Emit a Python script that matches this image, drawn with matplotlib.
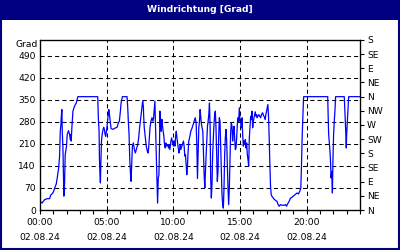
import matplotlib
matplotlib.use("Agg")
import matplotlib.pyplot as plt
from matplotlib.patches import Rectangle
from matplotlib.ticker import MultipleLocator, FixedLocator

title = "Windrichtung [Grad]"
unit_label = "Grad"

# time in hours since 02.08.24 00:00, wind direction in degrees
hours = [
    0.00, 0.15, 0.35, 0.55, 0.72, 0.80, 0.90, 1.00, 1.10, 1.22, 1.30, 1.40, 1.47, 1.52, 1.57, 1.59,
    1.64, 1.67, 1.72, 1.79, 1.84, 1.89, 1.99, 2.04, 2.14, 2.22, 2.27, 2.32, 2.34, 2.39, 2.47, 2.59,
    2.72, 2.84, 4.33, 4.38, 4.43, 4.46, 4.48, 4.53, 4.56, 4.61, 4.66, 4.73, 4.78, 4.83, 4.88, 4.93,
    4.98, 5.03, 5.08, 5.16, 5.21, 5.28, 5.33, 5.46, 5.58, 5.78, 5.88, 5.95, 6.03, 6.08, 6.18, 6.53,
    6.58, 6.63, 6.68, 6.73, 6.78, 6.83, 6.88, 6.93, 7.00, 7.08, 7.15, 7.22, 7.33, 7.40, 7.47, 7.57,
    7.65, 7.70, 7.75, 7.77, 7.82, 7.90, 7.97, 8.05, 8.10, 8.15, 8.20, 8.25, 8.32, 8.40, 8.47, 8.52,
    8.57, 8.62, 8.64, 8.69, 8.74, 8.82, 8.87, 8.92, 8.97, 8.99, 9.04, 9.09, 9.14, 9.19, 9.24, 9.29,
    9.34, 9.39, 9.44, 9.49, 9.57, 9.64, 9.69, 9.74, 9.82, 9.87, 9.92, 9.97, 10.02, 10.07, 10.12, 10.17,
    10.22, 10.27, 10.32, 10.37, 10.42, 10.47, 10.52, 10.56, 10.64, 10.71, 10.76, 10.81, 10.86, 10.91, 10.96, 11.01,
    11.06, 11.11, 11.16, 11.24, 11.31, 11.41, 11.49, 11.56, 11.64, 11.71, 11.76, 11.81, 11.86, 11.91, 11.96, 12.01,
    12.06, 12.11, 12.16, 12.21, 12.26, 12.31, 12.36, 12.41, 12.46, 12.51, 12.56, 12.61, 12.66, 12.71, 12.76, 12.80,
    12.85, 12.90, 12.95, 13.00, 13.05, 13.10, 13.15, 13.20, 13.25, 13.30, 13.35, 13.40, 13.45, 13.50, 13.55, 13.60,
    13.65, 13.70, 13.75, 13.80, 13.85, 13.90, 13.95, 14.00, 14.05, 14.10, 14.15, 14.20, 14.25, 14.30, 14.35, 14.40,
    14.45, 14.50, 14.55, 14.60, 14.65, 14.70, 14.75, 14.80, 14.85, 14.90, 14.95, 15.00, 15.05, 15.10, 15.15, 15.20,
    15.25, 15.30, 15.35, 15.40, 15.45, 15.50, 15.55, 15.60, 15.65, 15.70, 15.75, 15.80, 15.85, 15.90, 15.95, 16.00,
    16.05, 16.09, 16.14, 16.19, 16.24, 16.29, 16.34, 16.42, 16.49, 16.54, 16.62, 16.69, 16.74, 16.79, 16.84, 16.89,
    16.94, 16.99, 17.04, 17.09, 17.14, 17.19, 17.24, 17.29, 17.34, 17.39, 17.49, 17.59, 17.69, 17.79, 17.86, 17.94,
    18.04, 18.16, 18.29, 18.41, 18.49, 18.54, 18.61, 18.69, 18.79, 18.89, 18.99, 19.09, 19.19, 19.28, 19.38, 19.48,
    19.56, 19.61, 19.66, 19.71, 19.76, 19.78, 21.58, 21.60, 21.65, 21.73, 21.78, 21.83, 21.88, 21.93, 21.98, 22.02,
    22.07, 22.12, 22.17, 22.82, 22.85, 22.90, 22.95, 22.97, 23.00, 23.05, 23.10, 23.15, 23.97,
]
direction = [
    28, 22, 33, 36, 36, 47, 51, 57, 70, 83, 104, 134, 171, 250, 272, 293,
    319, 250, 197, 44, 81, 176, 203, 240, 252, 240, 224, 240, 219, 261, 314, 330,
    340, 360, 360, 288, 250, 160, 134, 86, 144, 219, 240, 256, 263, 256, 240, 234,
    250, 266, 288, 319, 303, 277, 259, 256, 259, 263, 277, 282, 314, 340, 360, 360,
    325, 277, 240, 165, 118, 91, 144, 203, 213, 192, 181, 192, 208, 229, 261, 298,
    330, 346, 330, 303, 261, 229, 203, 187, 181, 197, 229, 261, 282, 293, 282, 293,
    319, 346, 303, 219, 144, 22, 102, 112, 224, 314, 266, 250, 288, 266, 250, 234,
    208, 197, 213, 203, 208, 197, 208, 192, 219, 229, 219, 208, 203, 219, 203, 234,
    250, 229, 213, 197, 181, 192, 208, 192, 203, 213, 219, 203, 171, 176, 144, 112,
    139, 187, 219, 234, 250, 261, 272, 282, 293, 277, 208, 100, 176, 261, 282, 319,
    293, 272, 261, 250, 176, 112, 70, 123, 176, 219, 266, 282, 303, 340, 261, 102,
    38, 81, 176, 229, 272, 303, 314, 261, 176, 91, 123, 229, 293, 282, 208, 123,
    49, 17, 6, 70, 176, 229, 256, 219, 144, 70, 17, 70, 155, 250, 277, 266,
    219, 250, 266, 229, 192, 197, 229, 272, 293, 282, 325, 282, 277, 261, 293, 240,
    203, 219, 208, 224, 197, 213, 176, 160, 139, 229, 266, 298, 288, 314, 261, 282,
    293, 303, 312, 298, 303, 293, 298, 303, 298, 293, 303, 309, 303, 298, 295, 288,
    303, 314, 325, 335, 298, 229, 144, 75, 49, 44, 38, 33, 30, 26, 17, 12,
    17, 15, 15, 17, 12, 17, 22, 28, 38, 40, 44, 47, 51, 54, 51, 59,
    70, 139, 229, 288, 351, 360, 360, 319, 240, 197, 165, 102, 123, 54, 176, 240,
    282, 314, 360, 360, 330, 282, 229, 197, 240, 282, 325, 360, 360,
]

left_ticks = [0, 70, 140, 210, 280, 350, 420, 490]
time_ticks = [0, 5, 10, 15, 20]
time_labels = ["00:00\n02.08.24", "05:00\n02.08.24", "10:00\n02.08.24", "15:00\n02.08.24", "20:00\n02.08.24"]
compass_ticks = [0, 45, 90, 135, 180, 225, 270, 315, 360, 405, 450, 495, 540]
compass_labels = ["N", "NE", "E", "SE", "S", "SW", "W", "NW", "N", "NE", "E", "SE", "S"]

NAVY = "#000080"
FS = 6.6
plt.rcParams["font.family"] = ["DejaVu Sans"]

fig = plt.figure(figsize=(4, 2.5), dpi=100)
fig.patch.set_facecolor("white")

# title bar
fig.patches.append(Rectangle((0, 0.92), 1, 0.08, transform=fig.transFigure,
                             facecolor=NAVY, edgecolor="none", zorder=0))
fig.text(0.5, 0.96, title, color="white", fontsize=FS, fontweight="bold",
         ha="center", va="center")
# outer frame
fig.patches.append(Rectangle((0.002, 0.004), 0.996, 0.99, transform=fig.transFigure,
                             facecolor="none", edgecolor=NAVY, linewidth=1.5, zorder=0))

ax = fig.add_axes([0.1, 0.16, 0.8, 0.68])
ax.plot(hours, direction, color="#0000FF", linewidth=0.9, zorder=3)
ax.set_xlim(0, 24)
ax.set_ylim(0, 540)

ax.set_yticks(left_ticks)
ax.set_yticklabels([str(v) for v in left_ticks], fontsize=FS)
ax.tick_params(axis="y", length=0, pad=3)

ax.xaxis.set_major_locator(FixedLocator(time_ticks))
ax.set_xticklabels(time_labels, fontsize=FS)
ax.xaxis.set_minor_locator(MultipleLocator(1))
ax.tick_params(axis="x", which="both", length=3, direction="out", pad=3, width=0.8)
for lbl in ax.get_xticklabels():
    lbl.set_linespacing(1.8)

ax.grid(True, which="major", color="black", linestyle=(0, (4, 3)), linewidth=0.75)
for s in ax.spines.values():
    s.set_linewidth(0.9)
    s.set_color("black")

ax.text(-0.008, 1 - 5 / 170, unit_label, transform=ax.transAxes, fontsize=FS,
        ha="right", va="center")

ax2 = ax.twinx()
ax2.set_ylim(0, 540)
ax2.set_yticks(compass_ticks)
ax2.set_yticklabels(compass_labels, fontsize=FS)
ax2.tick_params(axis="y", length=3, width=0.8, pad=2)

fig.savefig("out.png", dpi=100, facecolor="white")
